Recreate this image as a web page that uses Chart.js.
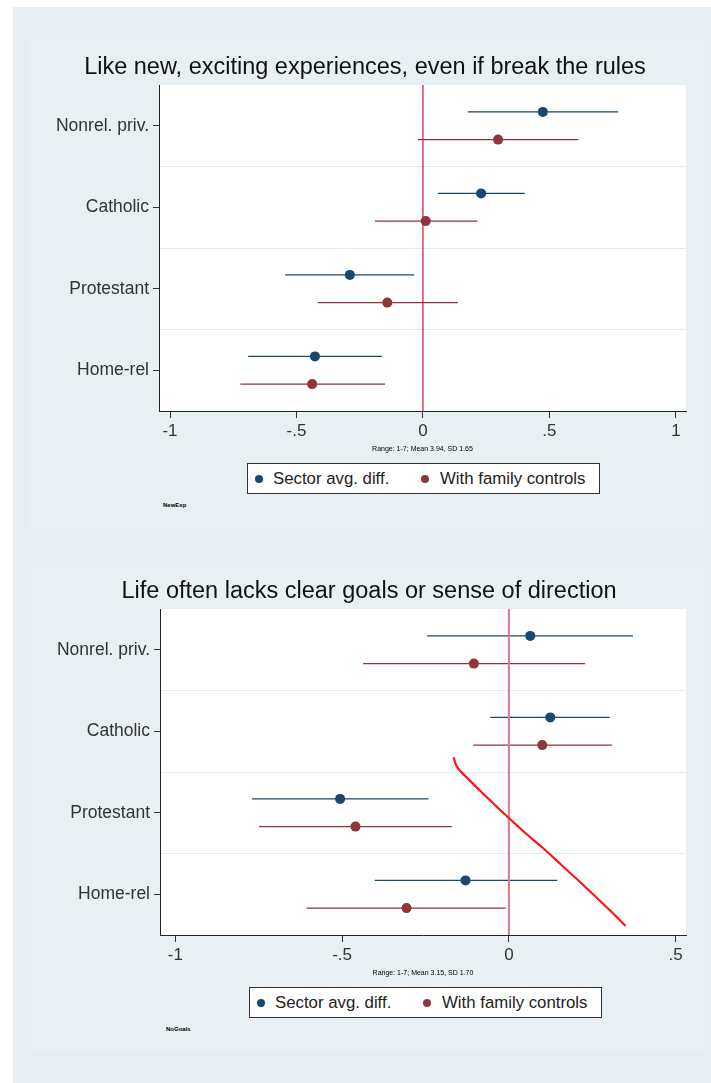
<!DOCTYPE html>
<html>
<head>
<meta charset="utf-8">
<script src="https://cdn.jsdelivr.net/npm/chart.js@4.4.1/dist/chart.umd.min.js"></script>
<style>
html,body{margin:0;padding:0;background:#fff;}
body{width:711px;height:1083px;position:relative;overflow:hidden;font-family:'Liberation Sans',Arial,sans-serif;}
#outer{position:absolute;left:13px;top:7px;width:698px;height:1076px;background:#e7eef1;}
.inner{position:absolute;background:#e9f0f3;}
canvas{position:absolute;left:0;}
.legend{position:absolute;height:29px;background:#fff;border:1px solid #333;font-size:16.8px;color:#222;line-height:29px;white-space:nowrap;}
.legend .dot{position:absolute;top:10.5px;width:8px;height:8px;border-radius:50%;}
.legend .txt{position:absolute;top:0;}
.note{position:absolute;font-size:6px;font-weight:bold;color:#000;}
</style>
</head>
<body>
<div id="outer"></div>
<div class="inner" style="left:28px;top:38px;width:677px;height:489px;"></div>
<div class="inner" style="left:33px;top:562px;width:672px;height:490px;"></div>
<canvas id="c1" width="711" height="460" style="top:0px"></canvas>
<canvas id="c2" width="711" height="460" style="top:524px"></canvas>

<div class="legend" style="left:247px;top:463px;width:351px;">
  <span class="dot" style="left:7px;background:#1a476f"></span><span class="txt" style="left:25px">Sector avg. diff.</span>
  <span class="dot" style="left:173px;background:#90353b"></span><span class="txt" style="left:192px">With family controls</span>
</div>
<div class="note" style="left:163px;top:502px;">NewExp</div>

<div class="legend" style="left:249px;top:987px;width:351px;">
  <span class="dot" style="left:7px;background:#1a476f"></span><span class="txt" style="left:25px">Sector avg. diff.</span>
  <span class="dot" style="left:173px;background:#90353b"></span><span class="txt" style="left:192px">With family controls</span>
</div>
<div class="note" style="left:166px;top:1026px;">NoGoals</div>

<script>
// ---------- data ----------
const categories = ['Nonrel. priv.', 'Catholic', 'Protestant', 'Home-rel'];
const seriesLabels = ['Sector avg. diff.', 'With family controls'];
const yTickValues = [0.5, 1, 1.5, 2, 2.5, 3, 3.5, 4, 4.5];

// Chart 1: Like new, exciting experiences
const newExpSectorEst = [0.474, 0.230, -0.289, -0.427];
const newExpSectorLo  = [0.177, 0.059, -0.545, -0.691];
const newExpSectorHi  = [0.772, 0.403, -0.035, -0.162];
const newExpFamilyEst = [0.297, 0.011, -0.141, -0.438];
const newExpFamilyLo  = [-0.020, -0.190, -0.416, -0.722];
const newExpFamilyHi  = [0.614, 0.215, 0.138, -0.150];
const newExpXTicks = [-1, -0.5, 0, 0.5, 1];

// Chart 2: Life often lacks clear goals
const noGoalsSectorEst = [0.064, 0.124, -0.506, -0.130];
const noGoalsSectorLo  = [-0.245, -0.056, -0.770, -0.402];
const noGoalsSectorHi  = [0.372, 0.302, -0.241, 0.145];
const noGoalsFamilyEst = [-0.105, 0.100, -0.460, -0.307];
const noGoalsFamilyLo  = [-0.437, -0.107, -0.749, -0.607];
const noGoalsFamilyHi  = [0.228, 0.309, -0.171, -0.009];
const noGoalsXTicks = [-1, -0.5, 0, 0.5];

// hand-drawn red annotation curve on chart 2 (data coordinates)
const curveX = [-0.166, -0.159, -0.147, -0.126, -0.087, -0.042, 0.003, 0.051, 0.102, 0.156, 0.210, 0.261, 0.305, 0.350];
const curveY = [2.320, 2.408, 2.482, 2.568, 2.727, 2.905, 3.077, 3.255, 3.433, 3.635, 3.838, 4.034, 4.206, 4.390];

// ---------- drawing ----------
const NAVY = '#1a476f', MAROON = '#90353b';
const FONT = "'Liberation Sans', Arial, sans-serif";
const OFF = 0.17;

function fmtTick(v){
  if (v === 0) return '0';
  const s = String(Math.abs(v)).replace(/^0\./, '.');
  return (v < 0 ? '-' : '') + s;
}

function buildChart(canvasId, cfg){
  const datasets = [
    {label: seriesLabels[0], data: cfg.sectorEst.map((v,i)=>({x:v, y:i+1-OFF})),
     backgroundColor: NAVY, borderColor: NAVY, borderWidth:0, pointRadius:5, pointHoverRadius:5},
    {label: seriesLabels[1], data: cfg.familyEst.map((v,i)=>({x:v, y:i+1+OFF})),
     backgroundColor: MAROON, borderColor: MAROON, borderWidth:0, pointRadius:5, pointHoverRadius:5}
  ];
  if (cfg.curveX) {
    datasets.push({label:'annotation', data: cfg.curveX.map((x,i)=>({x:x, y:cfg.curveY[i]})),
      showLine:true, borderColor:'#ff1414', backgroundColor:'#ff1414', borderWidth:2.2,
      pointRadius:0, pointHoverRadius:0, cubicInterpolationMode:'monotone', fill:false});
  }
  const bgPlugin = {
    id:'plotBg',
    beforeDraw(chart){
      const {ctx, chartArea:a} = chart;
      ctx.save(); ctx.fillStyle = '#fff';
      ctx.fillRect(a.left, a.top, a.right-a.left, a.bottom-a.top);
      ctx.restore();
    }
  };
  const ciPlugin = {
    id:'ciAndZero',
    beforeDatasetsDraw(chart){
      const {ctx, chartArea:a, scales} = chart;
      const x = scales.x, y = scales.y;
      ctx.save();
      ctx.beginPath(); ctx.rect(a.left, a.top, a.right-a.left, a.bottom-a.top); ctx.clip();
      const bars = [[cfg.sectorLo, cfg.sectorHi, -OFF, NAVY], [cfg.familyLo, cfg.familyHi, OFF, MAROON]];
      bars.forEach(([lo, hi, o, col]) => {
        ctx.strokeStyle = col; ctx.lineWidth = 1.3;
        lo.forEach((l, i) => {
          const py = y.getPixelForValue(i+1+o);
          ctx.beginPath();
          ctx.moveTo(x.getPixelForValue(l), py);
          ctx.lineTo(x.getPixelForValue(hi[i]), py);
          ctx.stroke();
        });
      });
      const zx = x.getPixelForValue(0);
      ctx.strokeStyle = cfg.zeroColor; ctx.lineWidth = cfg.zeroWidth;
      ctx.beginPath(); ctx.moveTo(zx, a.top); ctx.lineTo(zx, a.bottom); ctx.stroke();
      ctx.restore();
    }
  };
  return new Chart(document.getElementById(canvasId), {
    type:'scatter',
    data:{datasets},
    options:{
      responsive:false, animation:false, devicePixelRatio:1,
      layout:{padding:{left:cfg.padLeft, right:25, top:0, bottom:0}},
      plugins:{
        legend:{display:false},
        tooltip:{enabled:false},
        title:{display:true, text:cfg.title, color:'#111',
          font:{family:FONT, size:23.5, weight:'normal'}, padding:{top:53.9, bottom:2.9}}
      },
      scales:{
        x:{
          type:'linear', position:'bottom', min:cfg.xMin, max:cfg.xMax,
          afterBuildTicks: s => { s.ticks = cfg.xTicks.map(v => ({value:v})); },
          afterFit: s => { s.height = 49; },
          ticks:{callback: v => fmtTick(v), font:{family:FONT, size:17}, color:'#333',
                 padding:3.4, maxRotation:0, autoSkip:false},
          grid:{drawOnChartArea:false, drawTicks:true, tickLength:7, tickColor:'#333', tickWidth:1},
          border:{display:true, color:'#222', width:1},
          title:{display:true, text:cfg.note, font:{family:FONT, size:7}, color:'#000',
                 padding:{top:0, bottom:6.6}}
        },
        y:{
          type:'linear', reverse:true, min:0.5, max:4.5,
          afterBuildTicks: s => { s.ticks = yTickValues.map(v => ({value:v})); },
          afterFit: s => { s.width = cfg.yAxisWidth; },
          ticks:{autoSkip:false, callback: v => Number.isInteger(v) ? categories[v-1] : '',
                 font:{family:FONT, size:17.5}, color:'#333', padding:4},
          grid:{
            color: c => (c.tick && !Number.isInteger(c.tick.value) && c.tick.value > 0.5 && c.tick.value < 4.5) ? '#e2ebee' : 'rgba(0,0,0,0)',
            tickColor: c => (c.tick && Number.isInteger(c.tick.value)) ? '#333' : 'rgba(0,0,0,0)',
            tickLength:6, lineWidth:1
          },
          border:{display:true, color:'#222', width:1}
        }
      }
    },
    plugins:[bgPlugin, ciPlugin]
  });
}

buildChart('c1', {
  title:'Like new, exciting experiences, even if break the rules',
  note:'Range: 1-7; Mean 3.94, SD 1.65',
  sectorEst:newExpSectorEst, sectorLo:newExpSectorLo, sectorHi:newExpSectorHi,
  familyEst:newExpFamilyEst, familyLo:newExpFamilyLo, familyHi:newExpFamilyHi,
  xMin:-1.0435, xMax:1.04, xTicks:newExpXTicks,
  padLeft:44, yAxisWidth:115, zeroColor:'#cc1237', zeroWidth:1.2
});

buildChart('c2', {
  title:'Life often lacks clear goals or sense of direction',
  note:'Range: 1-7; Mean 3.15, SD 1.70',
  sectorEst:noGoalsSectorEst, sectorLo:noGoalsSectorLo, sectorHi:noGoalsSectorHi,
  familyEst:noGoalsFamilyEst, familyLo:noGoalsFamilyLo, familyHi:noGoalsFamilyHi,
  xMin:-1.046, xMax:0.531, xTicks:noGoalsXTicks,
  padLeft:52, yAxisWidth:108, zeroColor:'#d77a8c', zeroWidth:2,
  curveX:curveX, curveY:curveY
});
</script>
</body>
</html>
